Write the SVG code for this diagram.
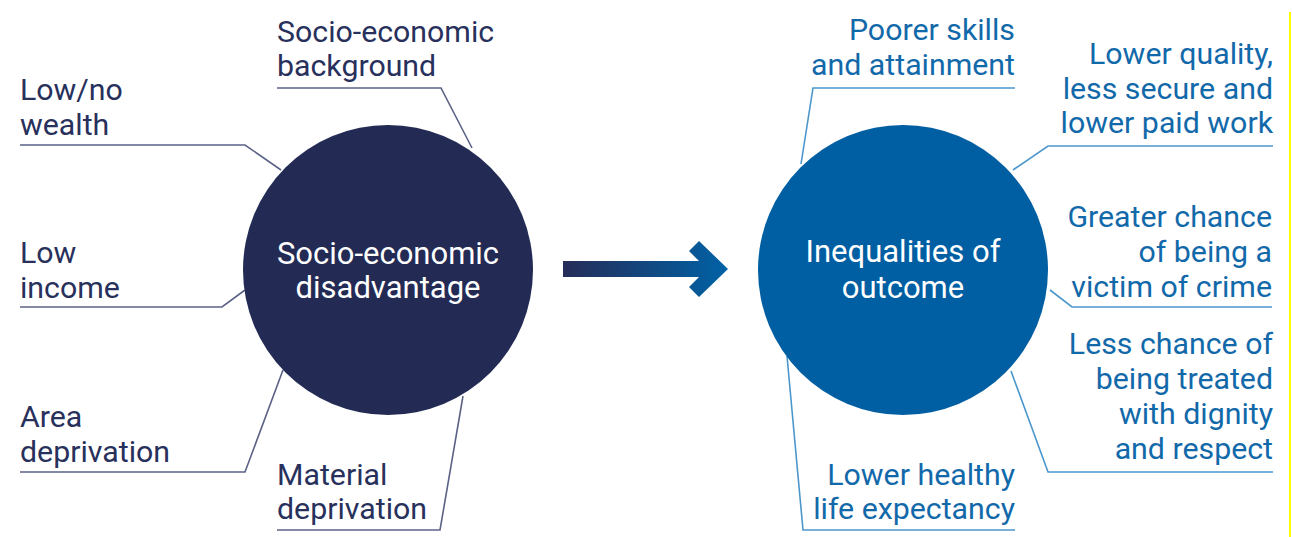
<svg xmlns="http://www.w3.org/2000/svg" width="1292" height="537" viewBox="0 0 1292 537">
<style>
.lt{font-family:Roboto,"Liberation Sans",sans-serif;font-size:30.3px;fill:#28305c}
.rt{font-family:Roboto,"Liberation Sans",sans-serif;font-size:30.3px;fill:#1269aa;text-anchor:end}
.ct{font-family:Roboto,"Liberation Sans",sans-serif;font-size:31px;fill:#ffffff;text-anchor:middle}
.ll{fill:none;stroke:#5b6286;stroke-width:1.6}
.rl{fill:none;stroke:#4b97cc;stroke-width:1.6}
</style>
<defs>
<linearGradient id="ag" x1="0" y1="0" x2="1" y2="0">
<stop offset="0" stop-color="#262c58"/>
<stop offset="1" stop-color="#0062a6"/>
</linearGradient>
</defs>
<rect width="1292" height="537" fill="#ffffff"/>
<g id="connectors">
<polyline class="ll" points="20,145 245,145 281,170"/>
<polyline class="ll" points="277,88 441,88 472,148"/>
<polyline class="ll" points="20,307 222,307 245,290"/>
<polyline class="ll" points="20,472 245,472 283,370"/>
<polyline class="ll" points="277,530 440,530 463,396"/>
<polyline class="rl" points="1015,88 813,88 801,164"/>
<polyline class="rl" points="1273,146 1048,146 1013,170"/>
<polyline class="rl" points="1272,307 1072,307 1050,290"/>
<polyline class="rl" points="1273,472 1048,472 1011,371"/>
<polyline class="rl" points="1015,530 803,530 787,356"/>
<polygon id="arrow" fill="url(#ag)" points="563,261 699,261 689,251 699,241 728,269 699,297 689,287 699,277 563,277"/>
</g>
<g id="node-disadvantage">
<circle cx="388" cy="270" r="145" fill="#232b55"/>
<text class="ct" x="388" y="264">Socio-economic</text>
<text class="ct" x="388" y="298">disadvantage</text>
</g>
<g id="node-inequalities">
<circle cx="903" cy="270" r="145" fill="#005ea2"/>
<text class="ct" x="903" y="262">Inequalities of</text>
<text class="ct" x="903" y="298">outcome</text>
</g>
<g id="label-wealth"><text class="lt" x="20" y="100">Low/no</text><text class="lt" x="20" y="135">wealth</text></g>
<g id="label-background"><text class="lt" x="277" y="42">Socio-economic</text><text class="lt" x="277" y="76">background</text></g>
<g id="label-income"><text class="lt" x="20" y="263">Low</text><text class="lt" x="20" y="298">income</text></g>
<g id="label-area"><text class="lt" x="20" y="427">Area</text><text class="lt" x="20" y="462">deprivation</text></g>
<g id="label-material"><text class="lt" x="277" y="485">Material</text><text class="lt" x="277" y="519">deprivation</text></g>
<g id="label-skills"><text class="rt" x="1015" y="40">Poorer skills</text><text class="rt" x="1015" y="75">and attainment</text></g>
<g id="label-work"><text class="rt" x="1273" y="64">Lower quality,</text><text class="rt" x="1273" y="99">less secure and</text><text class="rt" x="1273" y="133">lower paid work</text></g>
<g id="label-crime"><text class="rt" x="1272" y="227">Greater chance</text><text class="rt" x="1272" y="262">of being a</text><text class="rt" x="1272" y="297">victim of crime</text></g>
<g id="label-dignity"><text class="rt" x="1273" y="354">Less chance of</text><text class="rt" x="1273" y="389">being treated</text><text class="rt" x="1273" y="424">with dignity</text><text class="rt" x="1273" y="459">and respect</text></g>
<g id="label-health"><text class="rt" x="1015" y="485">Lower healthy</text><text class="rt" x="1015" y="519">life expectancy</text></g>
<line x1="1290" y1="12" x2="1290" y2="537" stroke="#ffff00" stroke-width="2"/>
</svg>
